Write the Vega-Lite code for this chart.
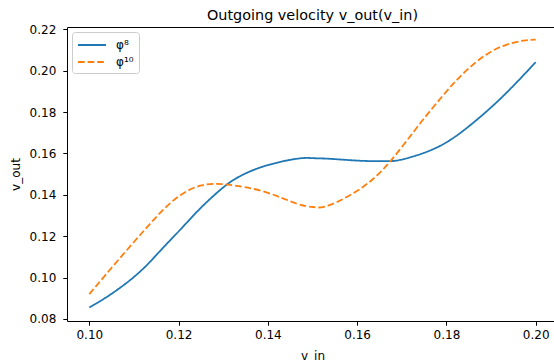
{
  "$schema": "https://vega.github.io/schema/vega-lite/v6.json",
  "autosize": {"type": "none"},
  "width": 491,
  "height": 294,
  "padding": {"left": 67, "top": 27, "right": 0, "bottom": 40},
  "title": {"text": "Outgoing velocity v_out(v_in)", "font": "DejaVu Sans", "fontSize": 14.4, "fontWeight": "normal", "color": "#000000", "offset": 4, "dy": 18, "baseline": "bottom", "anchor": "middle", "frame": "group"},
  "data": {"values": [
    {"series": "φ⁸", "v_in": 0.1000, "v_out": 0.0855},
    {"series": "φ⁸", "v_in": 0.1036, "v_out": 0.0902},
    {"series": "φ⁸", "v_in": 0.1081, "v_out": 0.0970},
    {"series": "φ⁸", "v_in": 0.1125, "v_out": 0.1052},
    {"series": "φ⁸", "v_in": 0.1163, "v_out": 0.1139},
    {"series": "φ⁸", "v_in": 0.1204, "v_out": 0.1232},
    {"series": "φ⁸", "v_in": 0.1248, "v_out": 0.1333},
    {"series": "φ⁸", "v_in": 0.1293, "v_out": 0.1423},
    {"series": "φ⁸", "v_in": 0.1331, "v_out": 0.1482},
    {"series": "φ⁸", "v_in": 0.1390, "v_out": 0.1537},
    {"series": "φ⁸", "v_in": 0.1464, "v_out": 0.1574},
    {"series": "φ⁸", "v_in": 0.1501, "v_out": 0.1577},
    {"series": "φ⁸", "v_in": 0.1538, "v_out": 0.1574},
    {"series": "φ⁸", "v_in": 0.1613, "v_out": 0.1564},
    {"series": "φ⁸", "v_in": 0.1670, "v_out": 0.1563},
    {"series": "φ⁸", "v_in": 0.1703, "v_out": 0.1572},
    {"series": "φ⁸", "v_in": 0.1778, "v_out": 0.1628},
    {"series": "φ⁸", "v_in": 0.1852, "v_out": 0.1734},
    {"series": "φ⁸", "v_in": 0.1926, "v_out": 0.1875},
    {"series": "φ⁸", "v_in": 0.2000, "v_out": 0.2041},
    {"series": "φ¹⁰", "v_in": 0.1000, "v_out": 0.0920},
    {"series": "φ¹⁰", "v_in": 0.1036, "v_out": 0.1012},
    {"series": "φ¹⁰", "v_in": 0.1081, "v_out": 0.1125},
    {"series": "φ¹⁰", "v_in": 0.1125, "v_out": 0.1233},
    {"series": "φ¹⁰", "v_in": 0.1163, "v_out": 0.1322},
    {"series": "φ¹⁰", "v_in": 0.1204, "v_out": 0.1398},
    {"series": "φ¹⁰", "v_in": 0.1248, "v_out": 0.1444},
    {"series": "φ¹⁰", "v_in": 0.1282, "v_out": 0.1453},
    {"series": "φ¹⁰", "v_in": 0.1315, "v_out": 0.1448},
    {"series": "φ¹⁰", "v_in": 0.1390, "v_out": 0.1416},
    {"series": "φ¹⁰", "v_in": 0.1464, "v_out": 0.1358},
    {"series": "φ¹⁰", "v_in": 0.1501, "v_out": 0.1341},
    {"series": "φ¹⁰", "v_in": 0.1538, "v_out": 0.1350},
    {"series": "φ¹⁰", "v_in": 0.1613, "v_out": 0.1438},
    {"series": "φ¹⁰", "v_in": 0.1677, "v_out": 0.1569},
    {"series": "φ¹⁰", "v_in": 0.1740, "v_out": 0.1742},
    {"series": "φ¹⁰", "v_in": 0.1785, "v_out": 0.1861},
    {"series": "φ¹⁰", "v_in": 0.1822, "v_out": 0.1952},
    {"series": "φ¹⁰", "v_in": 0.1860, "v_out": 0.2030},
    {"series": "φ¹⁰", "v_in": 0.1897, "v_out": 0.2088},
    {"series": "φ¹⁰", "v_in": 0.1934, "v_out": 0.2125},
    {"series": "φ¹⁰", "v_in": 0.1972, "v_out": 0.2145},
    {"series": "φ¹⁰", "v_in": 0.2000, "v_out": 0.2150}
  ]},
  "mark": {"type": "line", "interpolate": "natural", "strokeWidth": 1.8, "clip": true},
  "encoding": {
    "x": {"field": "v_in", "type": "quantitative",
      "scale": {"domain": [0.095, 0.205], "nice": false, "zero": false},
      "axis": {"title": "v_in", "values": [0.10, 0.12, 0.14, 0.16, 0.18, 0.20], "format": ".2f", "labelPadding": 4, "titlePadding": 10}},
    "y": {"field": "v_out", "type": "quantitative",
      "scale": {"domain": [0.0790, 0.2211], "nice": false, "zero": false},
      "axis": {"title": "v_out", "values": [0.08, 0.10, 0.12, 0.14, 0.16, 0.18, 0.20, 0.22], "format": ".2f", "labelPadding": 7, "titlePadding": 7}},
    "color": {"field": "series", "type": "nominal",
      "scale": {"domain": ["φ⁸", "φ¹⁰"], "range": ["#1f77b4", "#ff7f0e"]},
      "legend": {"title": null}},
    "strokeDash": {"field": "series", "type": "nominal",
      "scale": {"domain": ["φ⁸", "φ¹⁰"], "range": [[1, 0], [6.7, 2.9]]},
      "legend": {"title": null}}
  },
  "config": {
    "view": {"stroke": "#000000", "strokeWidth": 1},
    "axis": {"domain": false, "grid": false, "ticks": true, "tickColor": "#000000", "tickSize": 4.2, "tickWidth": 1,
      "labelFont": "DejaVu Sans", "labelFontSize": 12, "labelColor": "#000000",
      "titleFont": "DejaVu Sans", "titleFontSize": 12, "titleFontWeight": "normal", "titleColor": "#000000"},
    "legend": {"orient": "top-left", "offset": 5, "padding": 5, "strokeColor": "#cccccc", "fillColor": "#ffffff", "cornerRadius": 3,
      "symbolType": "M-1,0H3", "symbolSize": 196, "symbolStrokeWidth": 1.8,
      "labelFont": "DejaVu Sans", "labelFontSize": 12, "labelColor": "#000000", "labelOffset": 23, "rowPadding": 3}
  }
}
